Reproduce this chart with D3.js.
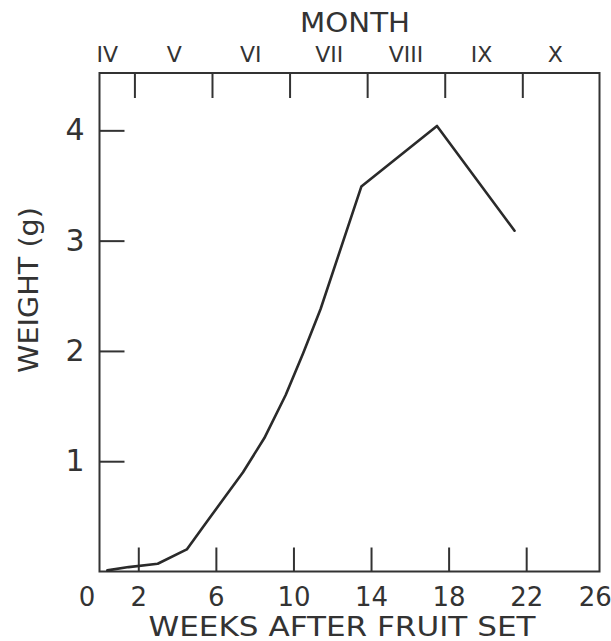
<!DOCTYPE html>
<html>
<head>
<meta charset="utf-8">
<script src="https://cdn.jsdelivr.net/npm/d3@7"></script>
<style>
  body { margin: 0; background: #fff; }
  text { font-family: "DejaVu Sans", sans-serif; fill: #333; }
</style>
</head>
<body>
<svg width="611" height="641"></svg>
<script>
// fruit weight vs weeks after fruit set

var weeks   = [0.4, 1.5, 3.0, 4.5, 5.45, 6.4, 7.4, 8.5, 9.6, 10.5, 11.4, 13.5, 17.4, 21.4];
var weights = [0.01, 0.04, 0.07, 0.20, 0.43, 0.66, 0.90, 1.21, 1.60, 1.98, 2.38, 3.49, 4.04, 3.09];

var weekTicks  = [2, 6, 10, 14, 18, 22];
var weekLabels = [0, 2, 6, 10, 14, 18, 22, 26];
var weightTicks = [1, 2, 3, 4];

var monthNames      = ["IV", "V", "VI", "VII", "VIII", "IX", "X"];
var monthLabelWeeks = [0.4, 3.85, 7.8, 11.85, 15.8, 19.7, 23.5];
var monthTicks      = [1.8, 5.8, 9.8, 13.8, 17.8, 21.8];

var svg = d3.select("svg");

// scales
var xScale = d3.scaleLinear().domain([0, 25.78]).range([99.5, 599.5]),
    yScale = d3.scaleLinear().domain([0, 4.52]).range([571.5, 73]);

var x0 = xScale(0), x1 = xScale(25.78),
    y0 = yScale(0), y1 = yScale(4.52);

// frame
svg.append("rect")
   .attr("x", x0).attr("y", y1)
   .attr("width", x1 - x0).attr("height", y0 - y1)
   .attr("fill", "none")
   .attr("stroke", "#333")
   .attr("stroke-width", 2);

// bottom ticks (pointing up)
svg.append("g")
   .attr("transform", "translate(0," + y0 + ")")
   .call(d3.axisBottom(xScale).tickValues(weekTicks).tickSize(-24).tickFormat(""))
   .call(function(g) { g.select(".domain").remove(); })
   .selectAll("line").attr("stroke", "#333").attr("stroke-width", 2);

// bottom labels
var xLab = svg.append("g")
   .attr("transform", "translate(0," + y0 + ")")
   .call(d3.axisBottom(xScale).tickValues(weekLabels).tickSize(0).tickFormat(d3.format("d")));
xLab.select(".domain").remove();
xLab.selectAll("text")
    .attr("y", 34.5).attr("dy", 0)
    .attr("font-size", 26)
    .attr("font-family", "DejaVu Sans")
    .attr("fill", "#333")
    .attr("dx", function(d) { return d === 0 ? -13 : (d === 26 ? -9 : 0); });

// left axis, ticks point right
var yAx = svg.append("g")
   .attr("transform", "translate(" + x0 + ",0)")
   .call(d3.axisLeft(yScale).tickValues(weightTicks).tickSize(-25).tickPadding(15).tickFormat(d3.format("d")));
yAx.select(".domain").remove();
yAx.selectAll("line").attr("stroke", "#333").attr("stroke-width", 2);
yAx.selectAll("text")
   .attr("font-size", 30)
   .attr("font-family", "DejaVu Sans")
   .attr("fill", "#333");

// top axis: month boundaries
svg.append("g")
   .attr("transform", "translate(0," + y1 + ")")
   .call(d3.axisTop(xScale).tickValues(monthTicks).tickSize(-25).tickFormat(""))
   .call(function(g) { g.select(".domain").remove(); })
   .selectAll("line").attr("stroke", "#333").attr("stroke-width", 2);

svg.append("g").selectAll("text")
   .data(monthNames)
   .enter().append("text")
   .attr("x", function(d, i) { return xScale(monthLabelWeeks[i]); })
   .attr("y", 62)
   .attr("text-anchor", "middle")
   .attr("font-size", 22)
   .text(function(d) { return d; });

// titles
svg.append("text")
   .attr("x", 355).attr("y", 32)
   .attr("text-anchor", "middle")
   .attr("font-size", 26)
   .attr("textLength", 110).attr("lengthAdjust", "spacingAndGlyphs")
   .text("MONTH");

svg.append("text")
   .attr("x", 342).attr("y", 636)
   .attr("text-anchor", "middle")
   .attr("font-size", 27)
   .attr("textLength", 387).attr("lengthAdjust", "spacingAndGlyphs")
   .text("WEEKS AFTER FRUIT SET");

svg.append("text")
   .attr("transform", "translate(38,290) rotate(-90)")
   .attr("text-anchor", "middle")
   .attr("font-size", 27)
   .attr("textLength", 166).attr("lengthAdjust", "spacingAndGlyphs")
   .text("WEIGHT (g)");

// growth curve
var data = weeks.map(function(w, i) { return { week: w, weight: weights[i] }; });

var line = d3.line()
   .x(function(d) { return xScale(d.week); })
   .y(function(d) { return yScale(d.weight); });

svg.append("path")
   .datum(data)
   .attr("d", line)
   .attr("fill", "none")
   .attr("stroke", "#2a2a2a")
   .attr("stroke-width", 2.6)
   .attr("stroke-linejoin", "round")
   .attr("stroke-linecap", "round");
</script>
</body>
</html>
